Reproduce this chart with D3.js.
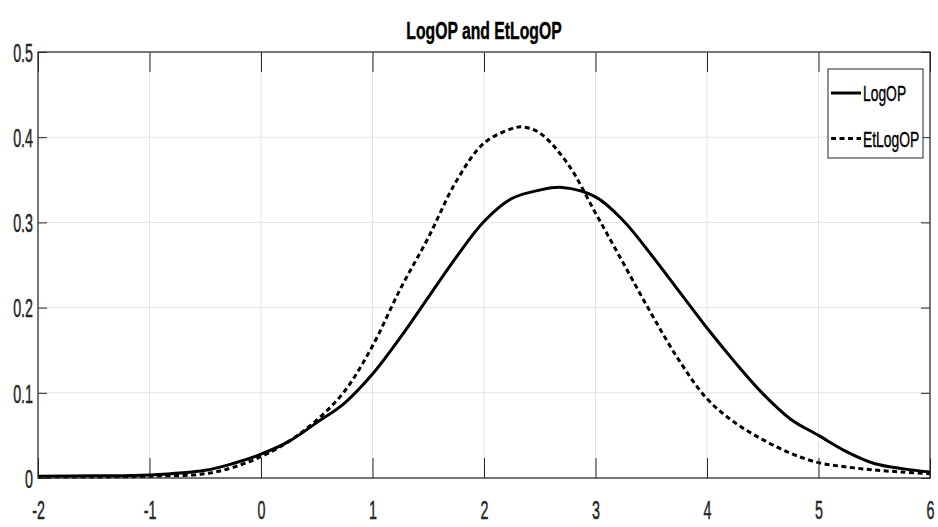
<!DOCTYPE html>
<html>
<head>
<meta charset="utf-8">
<script src="https://cdn.jsdelivr.net/npm/d3@7"></script>
<style>
  body { margin: 0; background: #fff; }
  text { font-family: "Liberation Sans", Arial, sans-serif; }
</style>
</head>
<body>
<div id="chart"></div>
<script>
// Data
const xTicks = [-2, -1, 0, 1, 2, 3, 4, 5, 6];
const yTicks = [0, 0.1, 0.2, 0.3, 0.4, 0.5];

const xLogOP = [-2, -1.5, -1, -0.5, -0.25, 0, 0.25, 0.5, 0.75, 1, 1.25, 1.5, 1.75, 2, 2.25, 2.5, 2.7, 3, 3.25, 3.5, 3.75, 4, 4.25, 4.5, 4.75, 5, 5.25, 5.5, 5.75, 6];
const yLogOP = [0.002, 0.0025, 0.0035, 0.009, 0.017, 0.028, 0.043, 0.065, 0.088, 0.122, 0.165, 0.212, 0.259, 0.301, 0.328, 0.338, 0.341, 0.330, 0.302, 0.262, 0.219, 0.176, 0.136, 0.099, 0.069, 0.050, 0.031, 0.017, 0.011, 0.007];

const xEtLogOP = [-2, -1.5, -1, -0.5, -0.25, 0, 0.25, 0.5, 0.75, 1, 1.25, 1.5, 1.75, 2, 2.25, 2.35, 2.5, 2.75, 3, 3.25, 3.5, 3.75, 4, 4.25, 4.5, 4.75, 5, 5.25, 5.5, 5.75, 6];
const yEtLogOP = [0.001, 0.0012, 0.002, 0.005, 0.0125, 0.025, 0.043, 0.068, 0.102, 0.155, 0.222, 0.282, 0.348, 0.393, 0.410, 0.412, 0.405, 0.369, 0.311, 0.252, 0.193, 0.138, 0.093, 0.065, 0.045, 0.029, 0.018, 0.013, 0.0094, 0.007, 0.005];

const seriesNames = ["LogOP", "EtLogOP"];

(function() {
const W = 938, H = 527;
const margin = { top: 52, right: 8, bottom: 49, left: 38 };
const width = W - margin.left - margin.right;
const height = H - margin.top - margin.bottom;
const axisColor = "#262626";

const svg = d3.select("#chart")
    .append("svg")
    .attr("width", W)
    .attr("height", H);

const g = svg.append("g")
    .attr("transform", `translate(${margin.left},${margin.top})`);

// Scales
const x = d3.scaleLinear().domain([-2, 6]).range([0, width]);
const y = d3.scaleLinear().domain([0, 0.5]).range([height, 0]);

// Grid
g.append("g")
    .selectAll("line")
    .data(xTicks)
    .enter()
    .append("line")
    .attr("x1", d => x(d)).attr("x2", d => x(d))
    .attr("y1", 0).attr("y2", height)
    .attr("stroke", "#e3e3e3")
    .attr("stroke-width", 1);
g.append("g")
    .selectAll("line")
    .data(yTicks)
    .enter()
    .append("line")
    .attr("x1", 0).attr("x2", width)
    .attr("y1", d => y(d)).attr("y2", d => y(d))
    .attr("stroke", "#e3e3e3")
    .attr("stroke-width", 1);

// Lines
const line = (xs, ys) => d3.line()
    .x((d, i) => x(xs[i]))
    .y(d => y(d))
    .curve(d3.curveCatmullRom.alpha(0.5))(ys);

g.append("path")
    .attr("d", line(xEtLogOP, yEtLogOP))
    .attr("fill", "none")
    .attr("stroke", "#000")
    .attr("stroke-width", 3)
    .attr("stroke-dasharray", "5,3.5");

g.append("path")
    .attr("d", line(xLogOP, yLogOP))
    .attr("fill", "none")
    .attr("stroke", "#000")
    .attr("stroke-width", 3);

// Axes (MATLAB style box, ticks pointing inward)
const fmt = d => String(d);   // plain hyphen for negatives, like MATLAB
const styleAxis = sel => {
    sel.select(".domain").remove();
    sel.selectAll(".tick line").attr("stroke", axisColor);
};

const bottom = g.append("g")
    .attr("transform", `translate(0,${height})`)
    .call(d3.axisBottom(x).tickValues(xTicks).tickSize(-20).tickFormat(fmt))
    .call(styleAxis);
bottom.selectAll(".tick text")
    .attr("y", null).attr("dy", null)
    .attr("transform", "translate(0,41) scale(0.55,1)")
    .attr("fill", axisColor)
    .attr("stroke", axisColor)
    .attr("stroke-width", 0.5)
    .style("font-size", "26px");

g.append("g")
    .call(d3.axisTop(x).tickValues(xTicks).tickSize(-20).tickFormat(""))
    .call(styleAxis);

const left = g.append("g")
    .call(d3.axisLeft(y).tickValues(yTicks).tickSize(-9).tickFormat(fmt))
    .call(styleAxis);
left.selectAll(".tick text")
    .attr("x", null)
    .attr("dy", "0.36em")
    .attr("transform", "translate(-5,0) scale(0.55,1)")
    .attr("fill", axisColor)
    .attr("stroke", axisColor)
    .attr("stroke-width", 0.5)
    .style("font-size", "26px");

g.append("g")
    .attr("transform", `translate(${width},0)`)
    .call(d3.axisRight(y).tickValues(yTicks).tickSize(-9).tickFormat(""))
    .call(styleAxis);

// Box
g.append("rect")
    .attr("x", 0).attr("y", 0)
    .attr("width", width).attr("height", height)
    .attr("fill", "none")
    .attr("stroke", axisColor)
    .attr("stroke-width", 1.2);

// Title
svg.append("text")
    .attr("transform", `translate(${margin.left + width / 2},39) scale(0.67,1)`)
    .attr("text-anchor", "middle")
    .style("font-size", "23.5px")
    .style("font-weight", "bold")
    .attr("fill", "#000")
    .attr("stroke", "#000")
    .attr("stroke-width", 0.4)
    .text("LogOP and EtLogOP");

// Legend
const legend = svg.append("g")
    .attr("transform", "translate(828,69)");
legend.append("rect")
    .attr("width", 95).attr("height", 89)
    .attr("fill", "#fff")
    .attr("stroke", axisColor)
    .attr("stroke-width", 1);

seriesNames.forEach((name, i) => {
    const ly = 24 + i * 45.5;
    legend.append("line")
        .attr("x1", 3).attr("x2", 33)
        .attr("y1", ly).attr("y2", ly)
        .attr("stroke", "#000")
        .attr("stroke-width", 3)
        .attr("stroke-dasharray", i === 1 ? "5,3.5" : null);
    legend.append("text")
        .attr("transform", `translate(35,${ly + 8}) scale(0.63,1)`)
        .style("font-size", "22px")
        .attr("fill", "#000")
        .attr("stroke", "#000")
        .attr("stroke-width", 0.4)
        .text(name);
});
})();
</script>
</body>
</html>
